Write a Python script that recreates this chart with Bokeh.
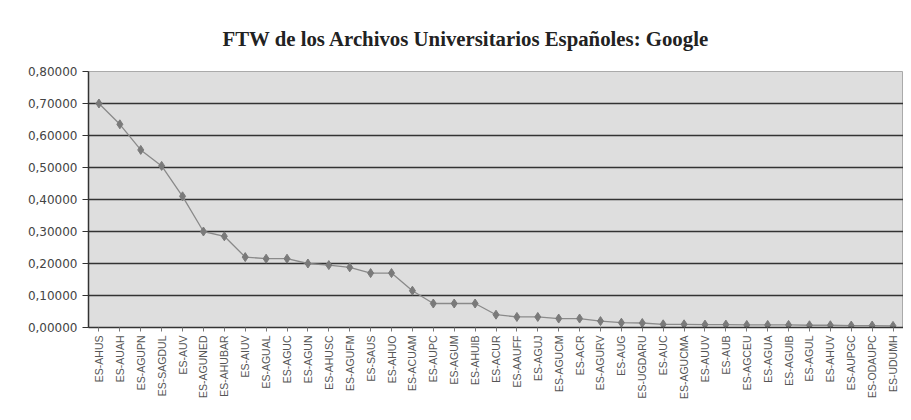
from bokeh.plotting import figure
from bokeh.models import FactorRange, CustomJSTickFormatter, FixedTicker, ColumnDataSource, Range1d, Title
from bokeh.embed import file_html
from bokeh.resources import INLINE
import math

archivos = [
    "ES-AHUS", "ES-AUAH", "ES-AGUPN", "ES-SAGDUL", "ES-AUV", "ES-AGUNED",
    "ES-AHUBAR", "ES-AIUV", "ES-AGUAL", "ES-AGUC", "ES-AGUN", "ES-AHUSC",
    "ES-AGUFM", "ES-SAUS", "ES-AHUO", "ES-ACUAM", "ES-AUPC", "ES-AGUM",
    "ES-AHUIB", "ES-ACUR", "ES-AAUFF", "ES-AGUJ", "ES-AGUCM", "ES-ACR",
    "ES-AGURV", "ES-AUG", "ES-UGDARU", "ES-AUC", "ES-AGUCMA", "ES-AUUV",
    "ES-AUB", "ES-AGCEU", "ES-AGUA", "ES-AGUIB", "ES-AGUL", "ES-AHUV",
    "ES-AUPGC", "ES-ODAUPC", "ES-UDUMH",
]
ftw = [
    0.700, 0.635, 0.555, 0.505, 0.410, 0.300,
    0.285, 0.220, 0.215, 0.215, 0.200, 0.195,
    0.188, 0.170, 0.170, 0.115, 0.075, 0.075,
    0.075, 0.040, 0.033, 0.033, 0.028, 0.028,
    0.020, 0.015, 0.014, 0.010, 0.010, 0.009,
    0.009, 0.008, 0.008, 0.008, 0.007, 0.007,
    0.006, 0.006, 0.005,
]
y_ticks = [0.0, 0.1, 0.2, 0.3, 0.4, 0.5, 0.6, 0.7, 0.8]
titulo = "FTW de los Archivos Universitarios Españoles: Google"

src = ColumnDataSource(dict(x=archivos, y=ftw))

p = figure(width=903, height=412, x_range=FactorRange(*archivos), y_range=Range1d(0, 0.8),
           output_backend="svg", toolbar_location=None,
           min_border_left=88, min_border_right=0, min_border_top=71, min_border_bottom=85)

p.add_layout(Title(text=" ", text_font_size="18px", standoff=0), "above")
p.add_layout(Title(text=titulo, align="left", offset=134, standoff=0,
                   text_font="Liberation Serif", text_font_style="bold",
                   text_font_size="20.8px", text_color="#222222"), "above")

p.background_fill_color = "#dedede"
p.border_fill_color = "white"
p.outline_line_color = "#aaaaaa"

p.xgrid.grid_line_color = None
p.ygrid.grid_line_color = "#333333"
p.ygrid.grid_line_width = 1.5
p.yaxis.ticker = FixedTicker(ticks=y_ticks)
p.yaxis.formatter = CustomJSTickFormatter(code="return tick.toFixed(5).replace('.', ',');")
p.yaxis.major_label_text_font = "DejaVu Sans"
p.yaxis.major_label_text_font_size = "12px"
p.yaxis.major_label_text_color = "#444444"
p.yaxis.axis_line_color = "#333333"
p.yaxis.axis_line_width = 1.5
p.yaxis.major_tick_line_color = "#333333"
p.yaxis.major_tick_in = 0
p.yaxis.major_tick_out = 6
p.yaxis.minor_tick_line_color = None

p.xaxis.major_label_orientation = math.pi / 2
p.xaxis.major_label_standoff = 4
p.xaxis.major_label_text_font = "Liberation Sans"
p.xaxis.major_label_text_font_size = "10.5px"
p.xaxis.major_label_text_color = "#555555"
p.xaxis.axis_line_color = "#333333"
p.xaxis.axis_line_width = 1.5
p.xaxis.major_tick_line_color = "#777777"
p.xaxis.major_tick_in = 0
p.xaxis.major_tick_out = 4

p.line("x", "y", source=src, line_color="#8a8a8a", line_width=1.3)
p.scatter("x", "y", source=src, marker="diamond", size=9, fill_color="#7a7a7a", line_color="#7a7a7a")

open("out.html", "w").write(file_html(p, INLINE))
